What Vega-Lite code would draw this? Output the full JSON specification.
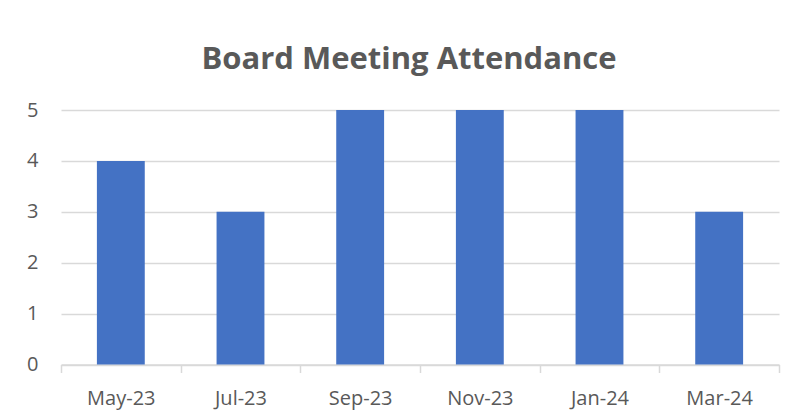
{
  "$schema": "https://vega.github.io/schema/vega-lite/v6.json",
  "width": 718,
  "height": 254.5,
  "autosize": {"type": "none"},
  "padding": {"left": 61, "top": 110, "right": 16, "bottom": 54.5},
  "background": "white",
  "title": {
    "text": "Board Meeting Attendance",
    "font": "Open Sans",
    "fontSize": 31,
    "fontWeight": "bold",
    "color": "#595959",
    "anchor": "middle",
    "frame": "group",
    "baseline": "alphabetic",
    "offset": 0,
    "dx": -11
  },
  "data": {
    "values": [
      {"month": "May-23", "attendance": 4},
      {"month": "Jul-23", "attendance": 3},
      {"month": "Sep-23", "attendance": 5},
      {"month": "Nov-23", "attendance": 5},
      {"month": "Jan-24", "attendance": 5},
      {"month": "Mar-24", "attendance": 3}
    ]
  },
  "mark": {"type": "bar", "color": "#4472C4", "width": {"band": 0.4}},
  "encoding": {
    "x": {
      "field": "month",
      "type": "nominal",
      "sort": null,
      "scale": {"paddingInner": 0, "paddingOuter": 0},
      "axis": {
        "title": null,
        "labelAngle": 0,
        "labelFont": "Open Sans",
        "labelFontSize": 20,
        "labelColor": "#595959",
        "labelBaseline": "alphabetic",
        "labelPadding": 31.5,
        "tickBand": "extent",
        "ticks": true,
        "tickSize": 8,
        "tickColor": "#D9D9D9",
        "tickOpacity": 1,
        "tickWidth": 1.5,
        "domainColor": "#D9D9D9",
        "domainWidth": 1.5,
        "grid": false
      }
    },
    "y": {
      "field": "attendance",
      "type": "quantitative",
      "scale": {"domain": [0, 5], "nice": false},
      "axis": {
        "title": null,
        "values": [0, 1, 2, 3, 4, 5],
        "labelFont": "Open Sans",
        "labelFontSize": 20,
        "labelColor": "#595959",
        "labelPadding": 23,
        "ticks": false,
        "domain": false,
        "grid": true,
        "gridColor": "#D9D9D9",
        "gridWidth": 1.5
      }
    }
  },
  "config": {"view": {"stroke": null}}
}
